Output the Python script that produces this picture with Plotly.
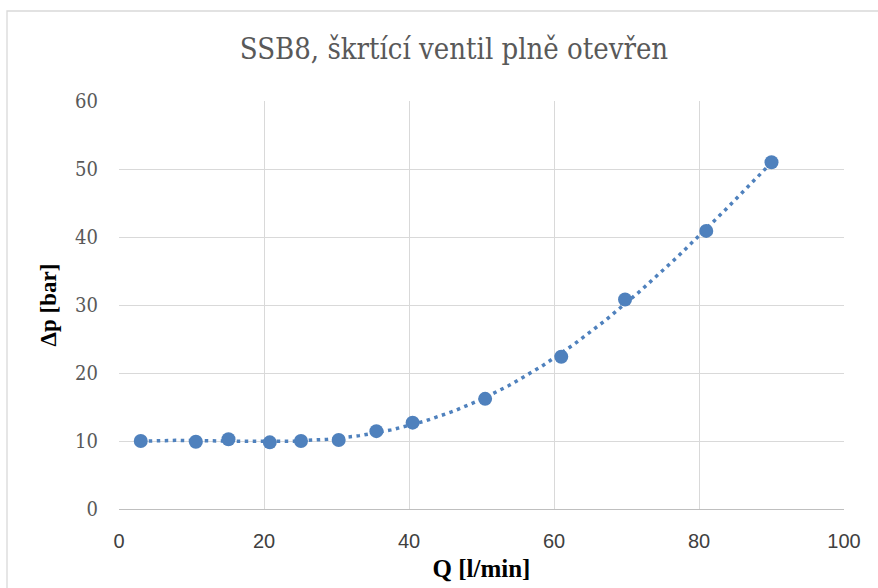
import numpy as np
import plotly.graph_objects as go

# Measured flow rate and pressure drop across the throttle valve (fully open)
flow_q = [3.0, 10.6, 15.1, 20.8, 25.1, 30.3, 35.5, 40.5, 50.5, 61.0, 69.8, 81.0, 90.0]
delta_p = [10.0, 9.9, 10.25, 9.8, 10.0, 10.15, 11.45, 12.7, 16.2, 22.4, 30.8, 40.9, 51.0]

x_ticks = [0, 20, 40, 60, 80, 100]
y_ticks = [0, 10, 20, 30, 40, 50, 60]

title_text = "SSB8, škrtící ventil plně otevřen"
x_title = "Q [l/min]"
y_title = "Δp [bar]"

BLUE = "#4F81BD"
GRID = "#D9D9D9"
SERIF = "Liberation Serif"
SERIF_REG = "DejaVu Serif Condensed"
SANS = "Liberation Sans"

# Polynomial trendline over the measured range
coef = np.polyfit(flow_q, delta_p, 4)
q_fit = np.linspace(min(flow_q), max(flow_q), 200)
p_fit = np.polyval(coef, q_fit)

fig = go.Figure()
fig.add_trace(go.Scatter(
    x=q_fit, y=p_fit, mode="lines",
    line=dict(color=BLUE, width=3.5, dash="3.5px,4.5px"),
    hoverinfo="skip", showlegend=False,
))
fig.add_trace(go.Scatter(
    x=flow_q, y=delta_p, mode="markers",
    marker=dict(color=BLUE, size=14),
    showlegend=False,
))

W, H = 878, 588
L, R, T, B = 119, 34, 101, 79
pw, ph = W - L - R, H - T - B

def px_to_paper_x(px):
    return (px - L) / pw

def px_to_paper_y(py):
    return (H - B - py) / ph

fig.update_layout(
    width=W, height=H,
    margin=dict(l=L, r=R, t=T, b=B, pad=0),
    paper_bgcolor="white", plot_bgcolor="white",
    title=dict(
        text=title_text,
        font=dict(family=SERIF_REG, size=29, color="#595959"),
        x=px_to_paper_x(454), xref="paper", xanchor="center",
        y=1 - 49 / H, yref="container", yanchor="middle",
    ),
    xaxis=dict(
        range=[0, 100], tickvals=x_ticks, ticktext=[str(v) for v in x_ticks],
        showgrid=True, gridcolor=GRID, gridwidth=1.3,
        zeroline=False, showline=True, linecolor="#BFBFBF", linewidth=1.3,
        ticks="", ticklabelstandoff=14,
        tickfont=dict(family=SANS, size=20, color="#404040"),
        title=dict(text=x_title, standoff=8,
                   font=dict(family=SERIF, size=25, color="black", weight="bold")),
        automargin=False, fixedrange=True,
    ),
    yaxis=dict(
        range=[0, 60], tickvals=y_ticks, ticktext=[str(v) for v in y_ticks],
        showgrid=True, gridcolor=GRID, gridwidth=1.3,
        zeroline=False, showline=False,
        ticks="", ticklabelstandoff=20,
        tickfont=dict(family=SERIF_REG, size=20, color="#595959"),
        title=dict(text=y_title, standoff=12,
                   font=dict(family=SERIF, size=23, color="black", weight="bold")),
        automargin=False, fixedrange=True,
    ),
    shapes=[dict(
        type="rect", xref="paper", yref="paper",
        x0=px_to_paper_x(7), x1=px_to_paper_x(W + 40),
        y0=px_to_paper_y(H + 40), y1=px_to_paper_y(11),
        line=dict(color=GRID, width=1.3), fillcolor="rgba(0,0,0,0)", layer="below",
    )],
)

fig.write_html("out.html")
